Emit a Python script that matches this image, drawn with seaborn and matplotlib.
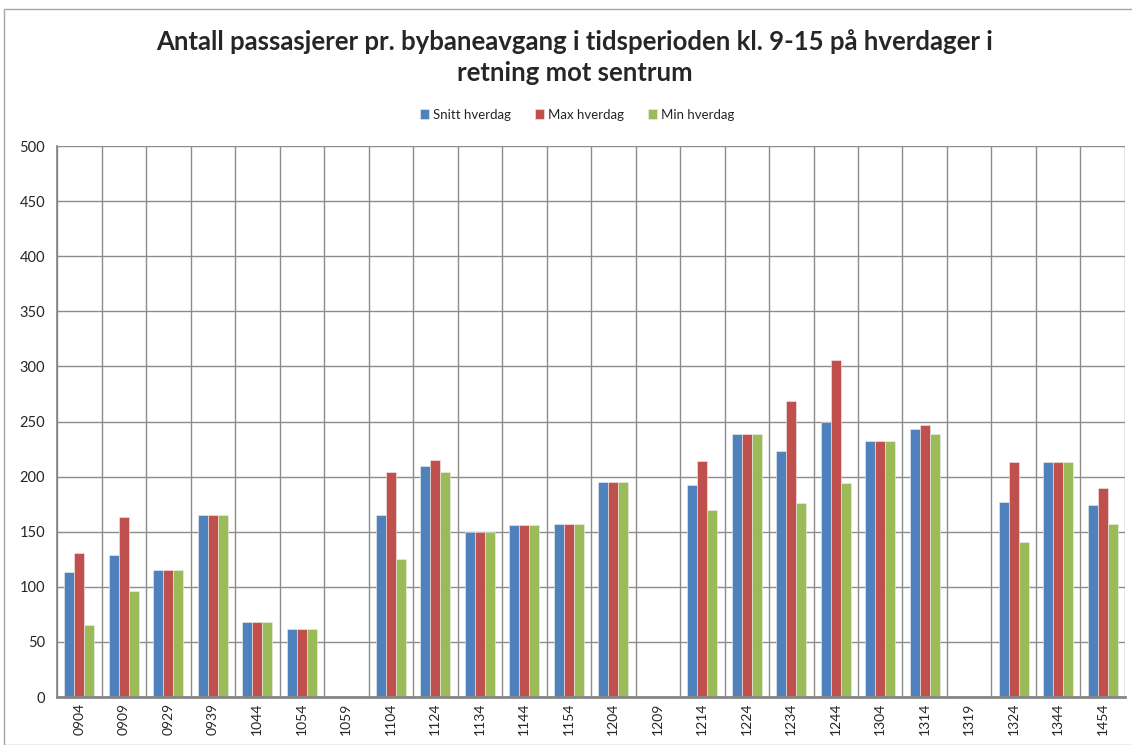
import numpy as np
import pandas as pd
import seaborn as sns
import matplotlib.pyplot as plt
from matplotlib.patches import Rectangle
from matplotlib.ticker import MultipleLocator

departures = ["0904", "0909", "0929", "0939", "1044", "1054", "1059", "1104",
              "1124", "1134", "1144", "1154", "1204", "1209", "1214", "1224",
              "1234", "1244", "1304", "1314", "1319", "1324", "1344", "1454"]
snitt = [113, 129, 115, 165, 68, 62, 0, 165, 210, 150, 156, 157, 195, 0,
         192, 239, 223, 250, 232, 243, 0, 177, 213, 174]
maks = [131, 163, 115, 165, 68, 62, 0, 204, 215, 150, 156, 157, 195, 0,
        214, 239, 269, 306, 232, 247, 0, 213, 213, 190]
minimum = [65, 96, 115, 165, 68, 62, 0, 125, 204, 150, 156, 157, 195, 0,
           170, 239, 176, 194, 232, 239, 0, 141, 213, 157]
series = ["Snitt hverdag", "Max hverdag", "Min hverdag"]
colors = ["#4F81BD", "#C0504D", "#9BBB59"]

df = pd.DataFrame({
    "avgang": departures * 3,
    "serie": np.repeat(series, len(departures)),
    "antall": snitt + maks + minimum,
})

sns.set_theme(style="white")
plt.rcParams["font.family"] = ["Lato", "DejaVu Sans"]

fig = plt.figure(figsize=(11.32, 7.45), dpi=100)
ax = fig.add_axes([0.0504, 0.0644, 0.9434, 0.7396])

sns.barplot(data=df, x="avgang", y="antall", hue="serie", palette=colors,
            width=0.67, gap=0, edgecolor="#f0f0f0", linewidth=0.4,
            saturation=1, ax=ax, legend=True)

n = len(departures)
ax.set_xlim(-0.5, n - 0.5)
ax.set_ylim(0, 500)
ax.yaxis.set_major_locator(MultipleLocator(50))
ax.set_xticks(np.arange(-0.5, n, 1), minor=True)
ax.tick_params(axis="x", which="major", length=0, labelrotation=90,
               labelsize=10, pad=4)
ax.tick_params(axis="x", which="minor", length=5, width=1, color="#868686",
               direction="out")
ax.tick_params(axis="y", which="major", length=5, width=1, color="#868686",
               direction="out", labelsize=10.5)
ax.grid(axis="y", which="major", color="#8c8c8c", linewidth=1)
ax.grid(axis="x", which="minor", color="#8c8c8c", linewidth=1)
ax.set_axisbelow(True)
for s in ["top", "right"]:
    ax.spines[s].set_visible(False)
ax.spines["left"].set_color("#868686")
ax.spines["bottom"].set_color("#868686")
ax.spines["bottom"].set_linewidth(2)
ax.set_xlabel("")
ax.set_ylabel("")

handles, labels = ax.get_legend_handles_labels()
ax.legend(handles, labels, loc="center", bbox_to_anchor=(0.51, 0.846),
          bbox_transform=fig.transFigure, ncol=3, frameon=False, fontsize=9.5,
          handlelength=0.7, handleheight=0.7, handletextpad=0.3,
          columnspacing=1.8)

fig.text(0.508, 0.924,
         "Antall passasjerer pr. bybaneavgang i tidsperioden kl. 9-15 på hverdager i\nretning mot sentrum",
         ha="center", va="center", fontsize=18.5, fontweight="bold",
         linespacing=1.35)

fig.patches.append(Rectangle((4 / 1132, 0), 1, 1 - 9 / 745,
                             transform=fig.transFigure, fill=False,
                             edgecolor="#a6a6a6", linewidth=1))

fig.savefig("out.png", dpi=100)
